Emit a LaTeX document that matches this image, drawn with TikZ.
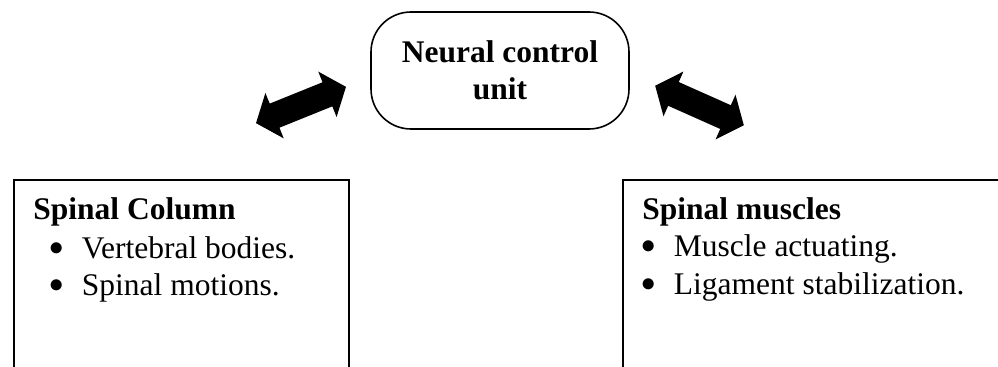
\documentclass[tikz,border=0pt]{standalone}
\usepackage{fontspec}
\setmainfont{Liberation Serif}
\newcommand{\bulitem}{\makebox[16.25pt][l]{\raisebox{1.8pt}{$\bullet$}}}
\begin{document}
\begin{tikzpicture}[x=0.5pt,y=-0.5pt,
  txt/.style={font=\fontsize{15.75pt}{18.5pt}\selectfont, inner sep=0pt, anchor=base west},
  frame/.style={draw, line width=0.8pt, anchor=north west, inner sep=0pt},
  ncubox/.style={draw, line width=0.8pt, rounded corners=20pt, minimum width=129pt,
    minimum height=58.5pt, align=center, inner sep=0pt,
    font=\fontsize{15.75pt}{18.5pt}\selectfont\bfseries},
  blockarrow/.style={fill=black}]
\useasboundingbox (0,0) rectangle (998,367);
\clip (0,0) rectangle (998,367);
\fill[white] (0,0) rectangle (998,367);

% central rounded box
\node[ncubox] (ncu) at (500,70.5) {\rule{0pt}{0pt}\raisebox{-1.2pt}{Neural control}\\\raisebox{-1.2pt}{unit}};

% left box
\node[frame, minimum width=167.5pt, minimum height=110pt] (colbox) at (13,179) {};
\node[txt, font=\fontsize{15.75pt}{18.5pt}\selectfont\bfseries] (colhead) at (33,220) {Spinal Column};
\node[txt] (colb1) at (49,259) {\bulitem Vertebral bodies.};
\node[txt] (colb2) at (49,296) {\bulitem Spinal motions.};

% right box
\node[frame, minimum width=200pt, minimum height=110pt] (musbox) at (622,179) {};
\node[txt, font=\fontsize{15.75pt}{18.5pt}\selectfont\bfseries] (mushead) at (642,220) {Spinal muscles};
\node[txt] (musb1) at (641,257) {\bulitem Muscle actuating.};
\node[txt] (musb2) at (641,295) {\bulitem Ligament stabilization.};

% block arrows
\begin{scope}[shift={(301,105)}, rotate=22]
  \fill[blockarrow] (-48.5,0) -- (-28.5,24.5) -- (-28.5,13) -- (28.5,13) -- (28.5,24.5)
    -- (48.5,0) -- (28.5,-24.5) -- (28.5,-13) -- (-28.5,-13) -- (-28.5,-24.5) -- cycle;
\end{scope}
\begin{scope}[shift={(699.5,105.5)}, rotate=-24]
  \fill[blockarrow] (-48.5,0) -- (-28.5,24.5) -- (-28.5,13) -- (28.5,13) -- (28.5,24.5)
    -- (48.5,0) -- (28.5,-24.5) -- (28.5,-13) -- (-28.5,-13) -- (-28.5,-24.5) -- cycle;
\end{scope}
\end{tikzpicture}
\end{document}
